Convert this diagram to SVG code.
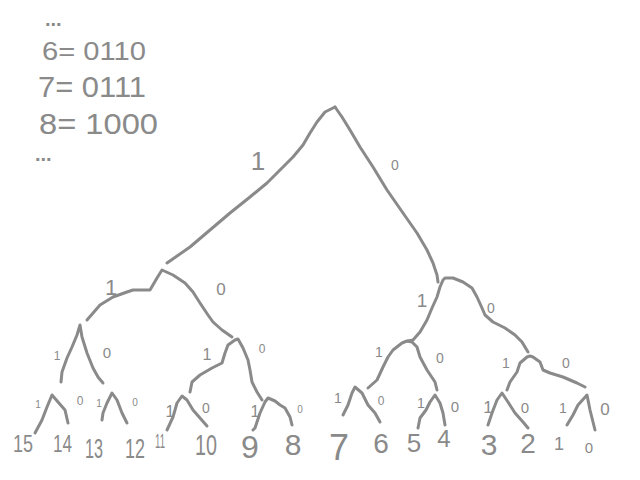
<svg xmlns="http://www.w3.org/2000/svg" width="640" height="480" viewBox="0 0 640 480">
<style>
.e{fill:none;stroke:#8a8a8a;stroke-width:3;stroke-linecap:round;stroke-linejoin:round}
.t{font-family:"Liberation Sans",Arial,sans-serif;fill:#8a8a8a}
.m{text-anchor:middle}
</style>
<rect width="640" height="480" fill="#fff"/>
<g id="legend" class="t">
<text x="45" y="26" font-size="20" font-weight="bold">...</text>
<text x="42" y="60" font-size="25" textLength="104" lengthAdjust="spacingAndGlyphs">6= 0110</text>
<text x="38" y="97" font-size="30" textLength="108" lengthAdjust="spacingAndGlyphs">7= 0111</text>
<text x="39" y="134" font-size="30" textLength="119" lengthAdjust="spacingAndGlyphs">8= 1000</text>
<text x="35" y="161" font-size="20" font-weight="bold">...</text>
</g>
<g id="connectors" class="e">
<polyline points="335,107 325,112 317,122 310,133 303,145 293,157 280,170 267,183 250,197 230,213 210,230 190,247 167,263"/>
<polyline points="335,107 342,117 350,130 360,147 373,167 387,190 403,213 417,233 427,250 433,263 437,275 438,282"/>
<polyline points="87,320 100,305 113,297 127,292 133,290 150,290 157,278 162,270 173,275 185,283 193,292 200,303 208,315 213,322 222,330 232,337"/>
<polyline points="408,341 413,340 420,332 427,320 432,308 437,297 440,287 443,280 445,278 453,278 463,282 472,288 477,297 482,308 485,315 493,322 505,328 515,335 522,342 528,352"/>
<polyline points="61,382 62,372 67,358 72,347 77,335 80,325 82,337 87,353 93,368 98,377 103,383"/>
<polyline points="190,392 192,382 200,375 212,368 222,363 225,353 228,345 235,340 238,339 243,348 248,360 250,370 252,382 257,392 262,400"/>
<polyline points="368,388 377,380 383,367 388,357 393,350 402,343 407,341 412,342 417,347 420,357 427,370 435,382 437,390"/>
<polyline points="507,390 510,382 517,372 520,363 527,357 530,356 533,357 540,362 543,370 550,373 563,377 577,383 585,387"/>
<polyline points="35,433 42,420 47,407 52,395 58,402 65,410 68,423"/>
<polyline points="102,420 103,413 107,403 112,393 117,400 122,413 127,423"/>
<polyline points="167,430 173,417 177,403 182,396 187,400 193,410 200,418 207,426"/>
<polyline points="253,430 255,428 260,413 265,402 268,398 275,401 280,405 285,408 290,417 292,425"/>
<polyline points="343,415 348,405 352,393 355,387 362,393 368,405 375,413 380,422"/>
<polyline points="418,428 420,418 426,410 430,402 435,395 440,403 443,413 445,425"/>
<polyline points="488,425 492,413 497,400 502,393 508,402 515,413 523,422 528,428"/>
<polyline points="567,425 573,415 578,405 587,395 590,410 595,430"/>
</g>
<g id="edge-labels" class="t m">
<text x="258" y="170" font-size="26">1</text>
<text x="395" y="170" font-size="14">0</text>
<text x="111" y="295" font-size="22">1</text>
<text x="221" y="295" font-size="17">0</text>
<text x="422" y="307" font-size="19">1</text>
<text x="491" y="313" font-size="14">0</text>
<text x="57" y="360" font-size="12">1</text>
<text x="107" y="358" font-size="15">0</text>
<text x="207" y="360" font-size="16">1</text>
<text x="262" y="353" font-size="12">0</text>
<text x="379" y="357" font-size="14">1</text>
<text x="440" y="363" font-size="14">0</text>
<text x="506" y="368" font-size="14">1</text>
<text x="566" y="368" font-size="14">0</text>
<text x="38" y="408" font-size="10">1</text>
<text x="80" y="405" font-size="12">0</text>
<text x="99" y="407" font-size="10">1</text>
<text x="135" y="406" font-size="10">0</text>
<text x="170" y="417" font-size="16">1</text>
<text x="206" y="413" font-size="14">0</text>
<text x="255" y="417" font-size="16">1</text>
<text x="300" y="413" font-size="10">0</text>
<text x="338" y="403" font-size="14">1</text>
<text x="381" y="405" font-size="12">0</text>
<text x="421" y="408" font-size="14">1</text>
<text x="455" y="412" font-size="15">0</text>
<text x="488" y="413" font-size="17">1</text>
<text x="525" y="413" font-size="15">0</text>
<text x="563" y="413" font-size="14">1</text>
<text x="605" y="415" font-size="17">0</text>
</g>
<g class="t">
<g id="leaf-15"><text x="13" y="452" font-size="24" textLength="20" lengthAdjust="spacingAndGlyphs">15</text></g>
<g id="leaf-14"><text x="53" y="452" font-size="24" textLength="19" lengthAdjust="spacingAndGlyphs">14</text></g>
<g id="leaf-13"><text x="85" y="458" font-size="28" textLength="18" lengthAdjust="spacingAndGlyphs">13</text></g>
<g id="leaf-12"><text x="125" y="458" font-size="28" textLength="20" lengthAdjust="spacingAndGlyphs">12</text></g>
<g id="leaf-11"><text x="155" y="448" font-size="20" textLength="10" lengthAdjust="spacingAndGlyphs">11</text></g>
<g id="leaf-10"><text x="195" y="455" font-size="30" textLength="22" lengthAdjust="spacingAndGlyphs">10</text></g>
<g id="leaf-9"><text class="m" x="250" y="458" font-size="32">9</text></g>
<g id="leaf-8"><text class="m" x="293" y="455" font-size="30">8</text></g>
<g id="leaf-7"><text class="m" x="339" y="460" font-size="36">7</text></g>
<g id="leaf-6"><text class="m" x="381" y="453" font-size="28">6</text></g>
<g id="leaf-5"><text class="m" x="414" y="452" font-size="26">5</text></g>
<g id="leaf-4"><text class="m" x="444" y="447" font-size="24">4</text></g>
<g id="leaf-3"><text class="m" x="489" y="455" font-size="30">3</text></g>
<g id="leaf-2"><text class="m" x="528" y="453" font-size="28">2</text></g>
<g id="leaf-1"><text class="m" x="559" y="450" font-size="18">1</text></g>
<g id="leaf-0"><text class="m" x="589" y="453" font-size="15">0</text></g>
</g>
</svg>
